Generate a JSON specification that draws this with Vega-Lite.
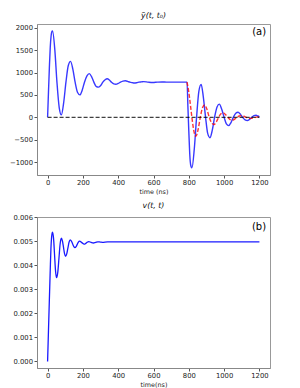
{
  "$schema": "https://vega.github.io/schema/vega-lite/v6.json",
  "padding": {"left": 9, "top": 11, "right": 5, "bottom": 5},
  "spacing": 5,
  "config": {
    "view": {"stroke": "#999", "strokeWidth": 1},
    "font": "DejaVu Sans",
    "axis": {"labelFont": "DejaVu Sans", "labelFontSize": 6.8, "labelColor": "#222", "titleFont": "DejaVu Sans", "titleFontSize": 6.4, "titleFontWeight": "normal", "titleColor": "#222", "tickColor": "#555", "tickSize": 3, "domainColor": "#888", "grid": false, "labelPadding": 1.5, "titlePadding": 2, "labelFlush": false},
    "title": {"font": "DejaVu Sans", "fontSize": 7.8, "fontStyle": "italic", "fontWeight": "normal", "color": "#111", "offset": 4}
  },
  "datasets": {
    "a_blue": [
      {"t":0,"y":0},{"t":5,"y":560},{"t":10,"y":1100},{"t":15,"y":1560},{"t":20,"y":1820},{"t":24,"y":1910},{"t":28,"y":1930},{"t":41,"y":1506},{"t":53,"y":785},{"t":66,"y":213},{"t":78,"y":54},{"t":91,"y":324},{"t":104,"y":785},{"t":117,"y":1151},{"t":130,"y":1248},{"t":143,"y":1077},{"t":156,"y":785},{"t":170,"y":553},{"t":183,"y":501},{"t":196,"y":606},{"t":209,"y":785},{"t":223,"y":927},{"t":236,"y":975},{"t":249,"y":908},{"t":262,"y":785},{"t":276,"y":687},{"t":289,"y":675},{"t":302,"y":715},{"t":313,"y":785},{"t":326,"y":840},{"t":338,"y":860},{"t":350,"y":832},{"t":362,"y":785},{"t":375,"y":748},{"t":387,"y":740},{"t":400,"y":757},{"t":413,"y":785},{"t":427,"y":807},{"t":440,"y":815},{"t":453,"y":804},{"t":466,"y":785},{"t":479,"y":774},{"t":492,"y":766},{"t":505,"y":773},{"t":518,"y":785},{"t":531,"y":791},{"t":544,"y":797},{"t":570,"y":785},{"t":596,"y":778},{"t":622,"y":785},{"t":648,"y":789},{"t":674,"y":785},{"t":700,"y":785},{"t":790,"y":785},
      {"t":795,"y":231},{"t":800,"y":-304},{"t":804,"y":-700},{"t":808,"y":-980},{"t":813,"y":-1100},{"t":818,"y":-1125},{"t":831,"y":-709},{"t":844,"y":0},{"t":857,"y":581},{"t":870,"y":735},{"t":882,"y":463},{"t":895,"y":0},{"t":907,"y":-359},{"t":920,"y":-455},{"t":933,"y":-287},{"t":946,"y":0},{"t":960,"y":233},{"t":973,"y":295},{"t":986,"y":186},{"t":1000,"y":0},{"t":1013,"y":-146},{"t":1026,"y":-185},{"t":1039,"y":-117},{"t":1052,"y":0},{"t":1066,"y":91},{"t":1079,"y":115},{"t":1092,"y":72},{"t":1105,"y":0},{"t":1119,"y":-57},{"t":1132,"y":-72},{"t":1144,"y":-45},{"t":1157,"y":0},{"t":1169,"y":36},{"t":1181,"y":45},{"t":1191,"y":30},{"t":1200,"y":12}
    ],
    "a_red": [
      {"t":790,"y":785},{"t":800,"y":560},{"t":810,"y":250},{"t":820,"y":-80},{"t":830,"y":-330},{"t":840,"y":-423},{"t":853,"y":-266},{"t":865,"y":0},{"t":878,"y":217},{"t":890,"y":275},{"t":903,"y":173},{"t":916,"y":0},{"t":930,"y":-126},{"t":943,"y":-160},{"t":956,"y":-101},{"t":969,"y":0},{"t":982,"y":79},{"t":995,"y":100},{"t":1008,"y":63},{"t":1021,"y":0},{"t":1034,"y":-49},{"t":1047,"y":-62},{"t":1060,"y":-39},{"t":1073,"y":0},{"t":1086,"y":30},{"t":1099,"y":38},{"t":1112,"y":24},{"t":1125,"y":0},{"t":1138,"y":-19},{"t":1151,"y":-24},{"t":1164,"y":-15},{"t":1177,"y":0},{"t":1190,"y":10},{"t":1200,"y":14}
    ],
    "a_zero": [{"t":0,"y":0},{"t":1200,"y":0}],
    "a_label": [{"t":1238,"y":1910,"label":"(a)"}],
    "b_blue": [
      {"t":0,"y":0},{"t":5,"y":0.00128},{"t":10,"y":0.00255},{"t":15,"y":0.0038},{"t":19,"y":0.0047},{"t":22,"y":0.0051},{"t":25,"y":0.0053},{"t":28,"y":0.00537},{"t":34,"y":0.00509},{"t":39.5,"y":0.004425},{"t":45,"y":0.00376},{"t":51,"y":0.00348},{"t":58,"y":0.00372},{"t":64.5,"y":0.0043},{"t":71,"y":0.00488},{"t":78,"y":0.00512},{"t":84,"y":0.00501},{"t":90,"y":0.004745},{"t":96,"y":0.00448},{"t":102,"y":0.00437},{"t":108.5,"y":0.00447},{"t":115,"y":0.00471},{"t":121.5,"y":0.00495},{"t":128,"y":0.00505},{"t":135,"y":0.005},{"t":141.5,"y":0.00489},{"t":148,"y":0.00478},{"t":155,"y":0.00473},{"t":161.5,"y":0.00477},{"t":168,"y":0.004865},{"t":174.5,"y":0.00496},{"t":181,"y":0.005},{"t":194,"y":0.004935},{"t":207,"y":0.00487},{"t":220,"y":0.004925},{"t":233,"y":0.00498},{"t":246,"y":0.00495},{"t":259,"y":0.00492},{"t":272,"y":0.004945},{"t":285,"y":0.00497},{"t":298,"y":0.00496},{"t":311,"y":0.00495},{"t":340,"y":0.00497},{"t":1200,"y":0.00497}
    ],
    "b_label": [{"t":1238,"y":0.00557,"label":"(b)"}]
  },
  "vconcat": [
    {
      "width": 233,
      "height": 151,
      "title": {"text": "ỹ(t, t₀)"},
      "encoding": {
        "x": {"field": "t", "type": "quantitative", "scale": {"domain": [-60, 1260], "nice": false, "zero": false}, "axis": {"values": [0,200,400,600,800,1000,1200], "format": "d", "title": "time (ns)"}},
        "y": {"field": "y", "type": "quantitative", "scale": {"domain": [-1287, 2083], "nice": false, "zero": false}, "axis": {"values": [-1000,-500,0,500,1000,1500,2000], "format": "d", "title": null}}
      },
      "layer": [
        {"data": {"name": "a_blue"}, "mark": {"type": "line", "color": "#0000ff", "opacity": 0.78, "strokeWidth": 1.4, "interpolate": "monotone"}},
        {"data": {"name": "a_red"}, "mark": {"type": "line", "color": "#ff0000", "opacity": 0.8, "strokeWidth": 1.4, "strokeDash": [4, 2], "interpolate": "monotone"}},
        {"data": {"name": "a_zero"}, "mark": {"type": "line", "color": "#000000", "opacity": 0.75, "strokeWidth": 1.1, "strokeDash": [4, 2]}},
        {"data": {"name": "a_label"}, "mark": {"type": "text", "align": "right", "baseline": "middle", "fontSize": 10, "font": "DejaVu Sans", "color": "#000"}, "encoding": {"text": {"field": "label"}}}
      ]
    },
    {
      "width": 233,
      "height": 151,
      "title": {"text": "v(t, t)"},
      "encoding": {
        "x": {"field": "t", "type": "quantitative", "scale": {"domain": [-60, 1260], "nice": false, "zero": false}, "axis": {"values": [0,200,400,600,800,1000,1200], "format": "d", "title": "time(ns)"}},
        "y": {"field": "y", "type": "quantitative", "scale": {"domain": [-0.00027, 0.006], "nice": false, "zero": false}, "axis": {"values": [0,0.001,0.002,0.003,0.004,0.005,0.006], "format": ".3f", "title": null}}
      },
      "layer": [
        {"data": {"name": "b_blue"}, "mark": {"type": "line", "color": "#0000ff", "opacity": 0.9, "strokeWidth": 1.3, "interpolate": "monotone"}},
        {"data": {"name": "b_label"}, "mark": {"type": "text", "align": "right", "baseline": "middle", "fontSize": 10, "font": "DejaVu Sans", "color": "#000"}, "encoding": {"text": {"field": "label"}}}
      ]
    }
  ]
}
